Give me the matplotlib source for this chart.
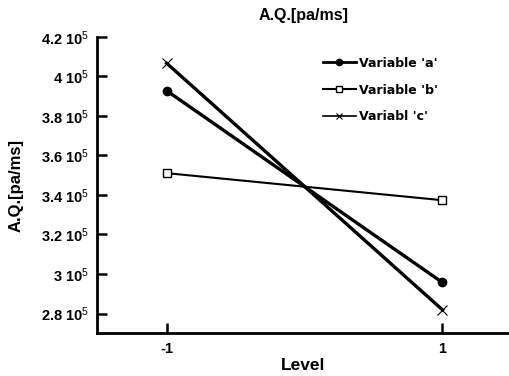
import matplotlib
matplotlib.use("Agg")
import matplotlib.pyplot as plt

levels = [-1, 1]
var_a = [3.927, 2.957]
var_b = [3.510, 3.373]
var_c = [4.066, 2.819]
series_labels = ["Variable 'a'", "Variable 'b'", "Variabl 'c'"]
yticks = [2.8, 3.0, 3.2, 3.4, 3.6, 3.8, 4.0, 4.2]
ytick_labels = ["2.8 10$^5$", "3 10$^5$", "3.2 10$^5$", "3.4 10$^5$",
                "3.6 10$^5$", "3.8 10$^5$", "4 10$^5$", "4.2 10$^5$"]
xticks = [-1, 1]
xtick_labels = ["-1", "1"]

plt.rcParams['font.family'] = ['Liberation Sans', 'DejaVu Sans']
plt.rcParams['mathtext.fontset'] = 'custom'
plt.rcParams['mathtext.rm'] = 'Liberation Sans'
plt.rcParams['mathtext.it'] = 'Liberation Sans:italic'
plt.rcParams['mathtext.bf'] = 'Liberation Sans:bold'

fig = plt.figure(figsize=(5.10, 3.76), dpi=100)
ax = fig.add_axes([97/510, 1-333.3/376, 1-97/510, (333.3-36.7)/376])

ax.plot(levels, var_a, color='black', lw=2.4, marker='o', ms=6,
        mfc='black', mec='black', label=series_labels[0])
ax.plot(levels, var_b, color='black', lw=1.5, marker='s', ms=6,
        mfc='white', mec='black', mew=1.0, label=series_labels[1])
ax.plot(levels, var_c, color='black', lw=2.4, marker='x', ms=7,
        mew=0.8, label=series_labels[2])

ax.set_xlim(-1.505, 1.49)
ax.set_ylim(2.7, 4.2)
ax.set_yticks(yticks)
ax.set_yticklabels(ytick_labels, fontweight='bold', fontsize=10.5)
ax.set_xticks(xticks)
ax.set_xticklabels(xtick_labels, fontweight='bold', fontsize=10.5)
ax.tick_params(direction='in', length=7, width=1.8, pad=6)

for s in ['top', 'right']:
    ax.spines[s].set_visible(False)
for s in ['left', 'bottom']:
    ax.spines[s].set_linewidth(2)

ax.set_title('A.Q.[pa/ms]', fontweight='bold', fontsize=11.5, pad=12)
ax.set_ylabel('A.Q.[pa/ms]', fontweight='bold', fontsize=12, labelpad=12)
ax.set_xlabel('Level', fontweight='bold', fontsize=12.5, labelpad=2)

leg = ax.legend(loc='upper left', bbox_to_anchor=(0.52, 0.97), frameon=False,
                prop={'family': 'DejaVu Sans', 'weight': 'bold', 'size': 9},
                handlelength=2.6, labelspacing=1.1, handletextpad=0.3)
for h, lw, ms in zip(leg.legend_handles, [2.0, 1.5, 1.2], [4.5, 5, 5]):
    h.set_linewidth(lw)
    h.set_markersize(ms)

fig.savefig('out.png', dpi=100)
